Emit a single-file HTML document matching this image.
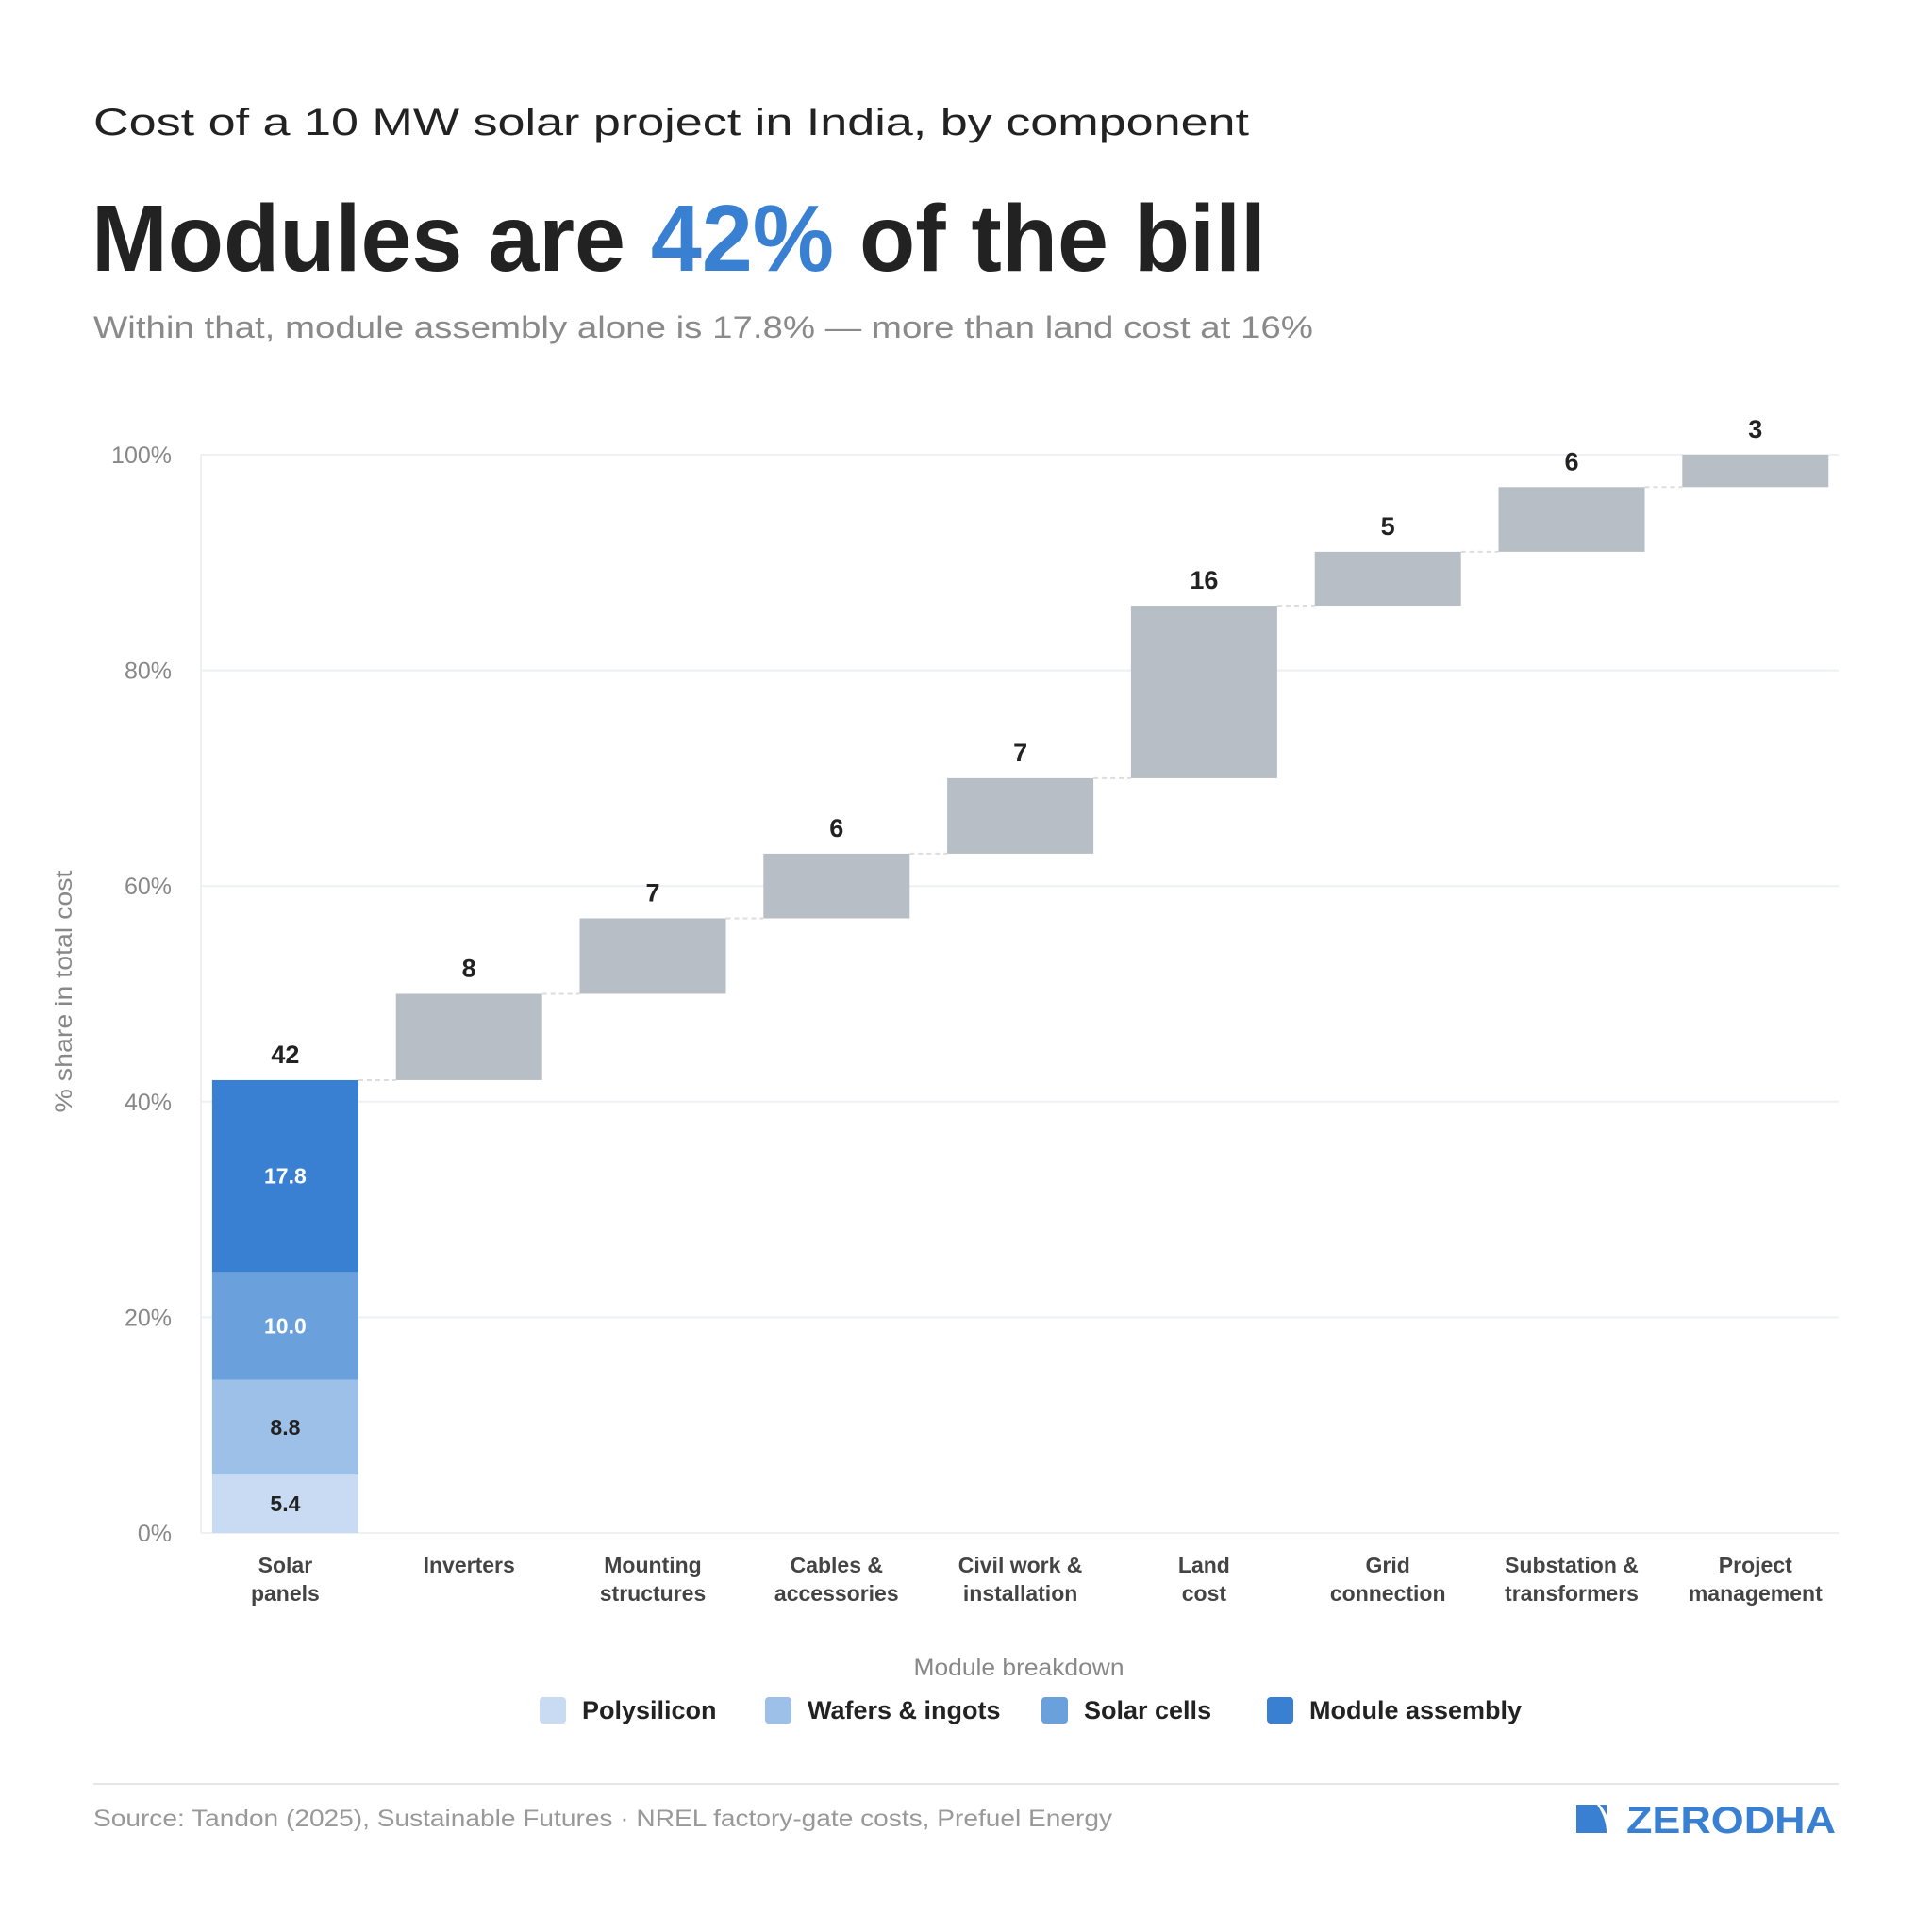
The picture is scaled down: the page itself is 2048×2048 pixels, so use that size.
<!DOCTYPE html>
<html><head><meta charset="utf-8"><style>
html,body{margin:0;padding:0;background:#fff;}
svg{display:block;font-family:"Liberation Sans",sans-serif;}
</style></head><body>
<svg id="chart" width="2048" height="2048" viewBox="0 0 2048 2048" xmlns="http://www.w3.org/2000/svg">
<rect width="2048" height="2048" fill="#fff"/>
<text x="99" y="143" font-size="40" fill="#222" textLength="1225" lengthAdjust="spacingAndGlyphs">Cost of a 10 MW solar project in India, by component</text>
<text x="97" y="287" font-size="100" font-weight="bold" fill="#222" textLength="1245" lengthAdjust="spacingAndGlyphs">Modules are <tspan fill="#3a80d2">42%</tspan> of the bill</text>
<text x="99" y="358" font-size="32" fill="#8a8a8a" textLength="1293" lengthAdjust="spacingAndGlyphs">Within that, module assembly alone is 17.8% — more than land cost at 16%</text>
<g id="grid"></g>
<g id="bars"></g>
<g id="labels"></g>
<text transform="translate(76,1051) rotate(-90)" text-anchor="middle" font-size="25" fill="#888" textLength="257" lengthAdjust="spacingAndGlyphs">% share in total cost</text>
<text x="1080" y="1776" text-anchor="middle" font-size="25" fill="#888" textLength="223" lengthAdjust="spacingAndGlyphs">Module breakdown</text>
<g id="legend"></g>
<line x1="99" y1="1891" x2="1949" y2="1891" stroke="#e6e6e6" stroke-width="2"/>
<text x="99" y="1936" font-size="25" fill="#999" textLength="1080" lengthAdjust="spacingAndGlyphs">Source: Tandon (2025), Sustainable Futures · NREL factory-gate costs, Prefuel Energy</text>
<g>
<path d="M1671 1913 L1693 1913 Q1703 1928 1703 1943 L1671 1943 Z" fill="#3a80d2"/>
<path d="M1696 1913 L1703 1913 L1703 1924 Q1700 1918 1696 1913 Z" fill="#3a80d2"/>
<text x="1724" y="1943" font-size="40" font-weight="bold" fill="#3a80d2" textLength="222" lengthAdjust="spacingAndGlyphs">ZERODHA</text>
</g>
</svg>
<script>
const categories = ["Solar panels","Inverters","Mounting structures","Cables & accessories","Civil work & installation","Land cost","Grid connection","Substation & transformers","Project management"];
const catLines = [["Solar","panels"],["Inverters"],["Mounting","structures"],["Cables &","accessories"],["Civil work &","installation"],["Land","cost"],["Grid","connection"],["Substation &","transformers"],["Project","management"]];
const values = [42,8,7,6,7,16,5,6,3];
const moduleParts = ["Polysilicon","Wafers & ingots","Solar cells","Module assembly"];
const moduleValues = [5.4,8.8,10.0,17.8];
const moduleLabels = ["5.4","8.8","10.0","17.8"];
const yTicks = [0,20,40,60,80,100];
const yTickLabels = ["0%","20%","40%","60%","80%","100%"];

const NS="http://www.w3.org/2000/svg";
const plotL=213, plotR=1949, yTop=482, yBot=1625;
const colors=["#c9dbf2","#9dc0e8","#6aa1dc","#3a80d2"];
const segText=["#222","#222","#fff","#fff"];
const y=v=>yBot-(yBot-yTop)*v/100;
const firstC=302.4, step=194.8;
const bw=155;
const xc=i=>firstC+step*i;
function mk(tag,attrs,parent,txt){const e=document.createElementNS(NS,tag);for(const k in attrs)e.setAttribute(k,attrs[k]);if(txt!==undefined)e.textContent=txt;parent.appendChild(e);return e;}
const grid=document.getElementById('grid'),bars=document.getElementById('bars'),labels=document.getElementById('labels'),legend=document.getElementById('legend');
mk('line',{x1:plotL,y1:yTop,x2:plotL,y2:yBot,stroke:'#eef0f3','stroke-width':2},grid);
yTicks.forEach((t,i)=>{
  const l=mk('line',{x1:plotL,y1:y(t),x2:plotR,y2:y(t),stroke:'#eef0f3','stroke-width':2},grid);
  
  
  const tx=mk('text',{x:182,y:y(t)+9,'text-anchor':'end','font-size':25,fill:'#888'},grid,yTickLabels[i]);
  
  
});
let cum=0;
values.forEach((v,i)=>{
  const x0=xc(i)-bw/2;
  if(i===0){
    let c=0;
    moduleValues.forEach((mv,j)=>{
      const r=mk('rect',{x:x0,y:y(c+mv),width:bw,height:y(c)-y(c+mv),fill:colors[j]},bars);
      
      
      const t=mk('text',{x:xc(0),y:(y(c)+y(c+mv))/2+8,'text-anchor':'middle','font-size':23,'font-weight':'bold',fill:segText[j]},labels,moduleLabels[j]);
      
      
      c+=mv;
    });
  } else {
    const r=mk('rect',{x:x0,y:y(cum+v),width:bw,height:y(cum)-y(cum+v),fill:'#b8bec6'},bars);
    
    
  }
  const top=cum+v;
  if(i<values.length-1){
    const d=mk('line',{x1:x0+bw,y1:y(top),x2:xc(i+1)-bw/2,y2:y(top),stroke:'#ddd','stroke-width':2,'stroke-dasharray':'5,4'},bars);
    
    
  }
  const vl=mk('text',{x:xc(i),y:y(top)-18,'text-anchor':'middle','font-size':27,'font-weight':'bold',fill:'#222'},labels,String(v));
  
  
  catLines[i].forEach((ln,k)=>{
    const ct=mk('text',{x:xc(i),y:1667+k*30,'text-anchor':'middle','font-size':23,'font-weight':'bold',fill:'#444'},labels,ln);
    
    
  });
  cum=top;
});
const legX=[572,811,1104,1343];
moduleParts.forEach((p,j)=>{
  const g=mk('g',{},legend);
  
  
  mk('rect',{x:legX[j],y:1799,width:28,height:28,rx:4,fill:colors[j]},g);
  mk('text',{x:legX[j]+45,y:1822,'font-size':27,'font-weight':'bold',fill:'#222'},g,p);
});
</script>
</body></html>
